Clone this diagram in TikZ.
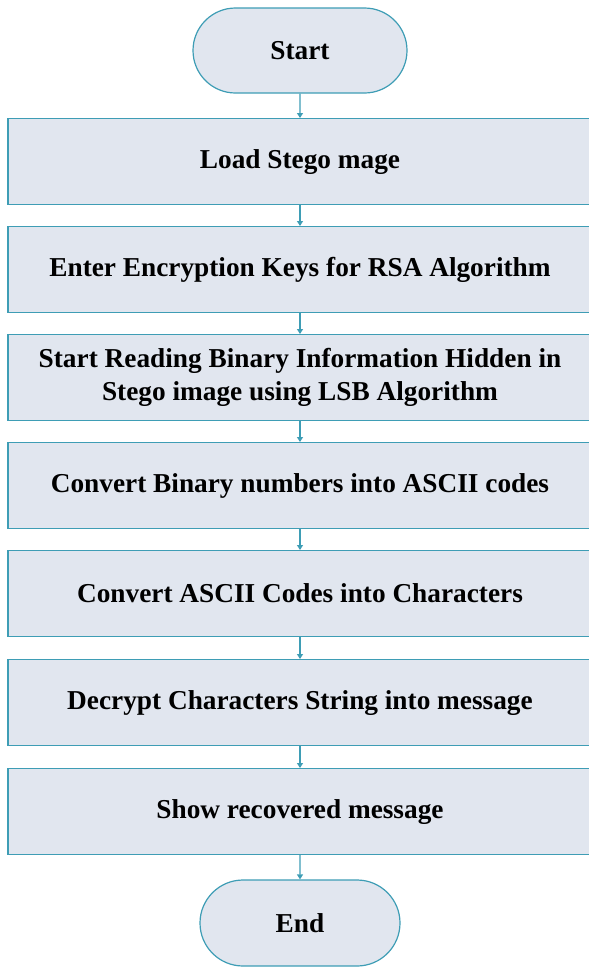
\documentclass[tikz,border=0pt]{standalone}
\usepackage{fontspec}
\setmainfont{Liberation Serif}
\usetikzlibrary{arrows.meta,shapes.misc}
\definecolor{boxfill}{HTML}{E1E6EF}
\definecolor{boxline}{HTML}{3E9DB5}
\begin{document}
\begin{tikzpicture}[x=1pt,y=-1pt,
  stepbox/.style={draw=boxline,fill=boxfill,line width=1.2pt,minimum width=584pt,minimum height=86pt,inner sep=0pt,align=center,font=\fontsize{27.3}{33}\selectfont\bfseries,anchor=north},
  term/.style={draw=boxline,fill=boxfill,line width=1.2pt,rounded rectangle,minimum width=214pt,minimum height=85pt,inner sep=0pt,font=\fontsize{27.3}{33}\selectfont\bfseries},
  conn/.style={draw=boxline,line width=1.2pt,-{Triangle[length=5pt,width=6pt]}}]
\useasboundingbox (0,0) rectangle (589,967);
\clip (0,0) rectangle (589,967);
\node[term] (start) at (300,50.5) {Start};
\node[stepbox] (b1) at (300,118) {Load Stego mage};
\node[stepbox] (b2) at (300,226) {Enter Encryption Keys for RSA Algorithm};
\node[stepbox] (b3) at (300,334) {Start Reading Binary Information Hidden in\\Stego image using LSB Algorithm};
\node[stepbox] (b4) at (300,442) {Convert Binary numbers into ASCII codes};
\node[stepbox] (b5) at (300,550) {Convert ASCII Codes into Characters};
\node[stepbox] (b6) at (300,659) {Decrypt Characters String into message};
\node[stepbox] (b7) at (300,768) {Show recovered message};
\node[term,minimum width=200pt,minimum height=86pt] (end) at (300,923) {End};
\draw[conn] (start) -- (b1);
\draw[conn] (b1) -- (b2);
\draw[conn] (b2) -- (b3);
\draw[conn] (b3) -- (b4);
\draw[conn] (b4) -- (b5);
\draw[conn] (b5) -- (b6);
\draw[conn] (b6) -- (b7);
\draw[conn] (b7) -- (end);
\end{tikzpicture}
\end{document}
